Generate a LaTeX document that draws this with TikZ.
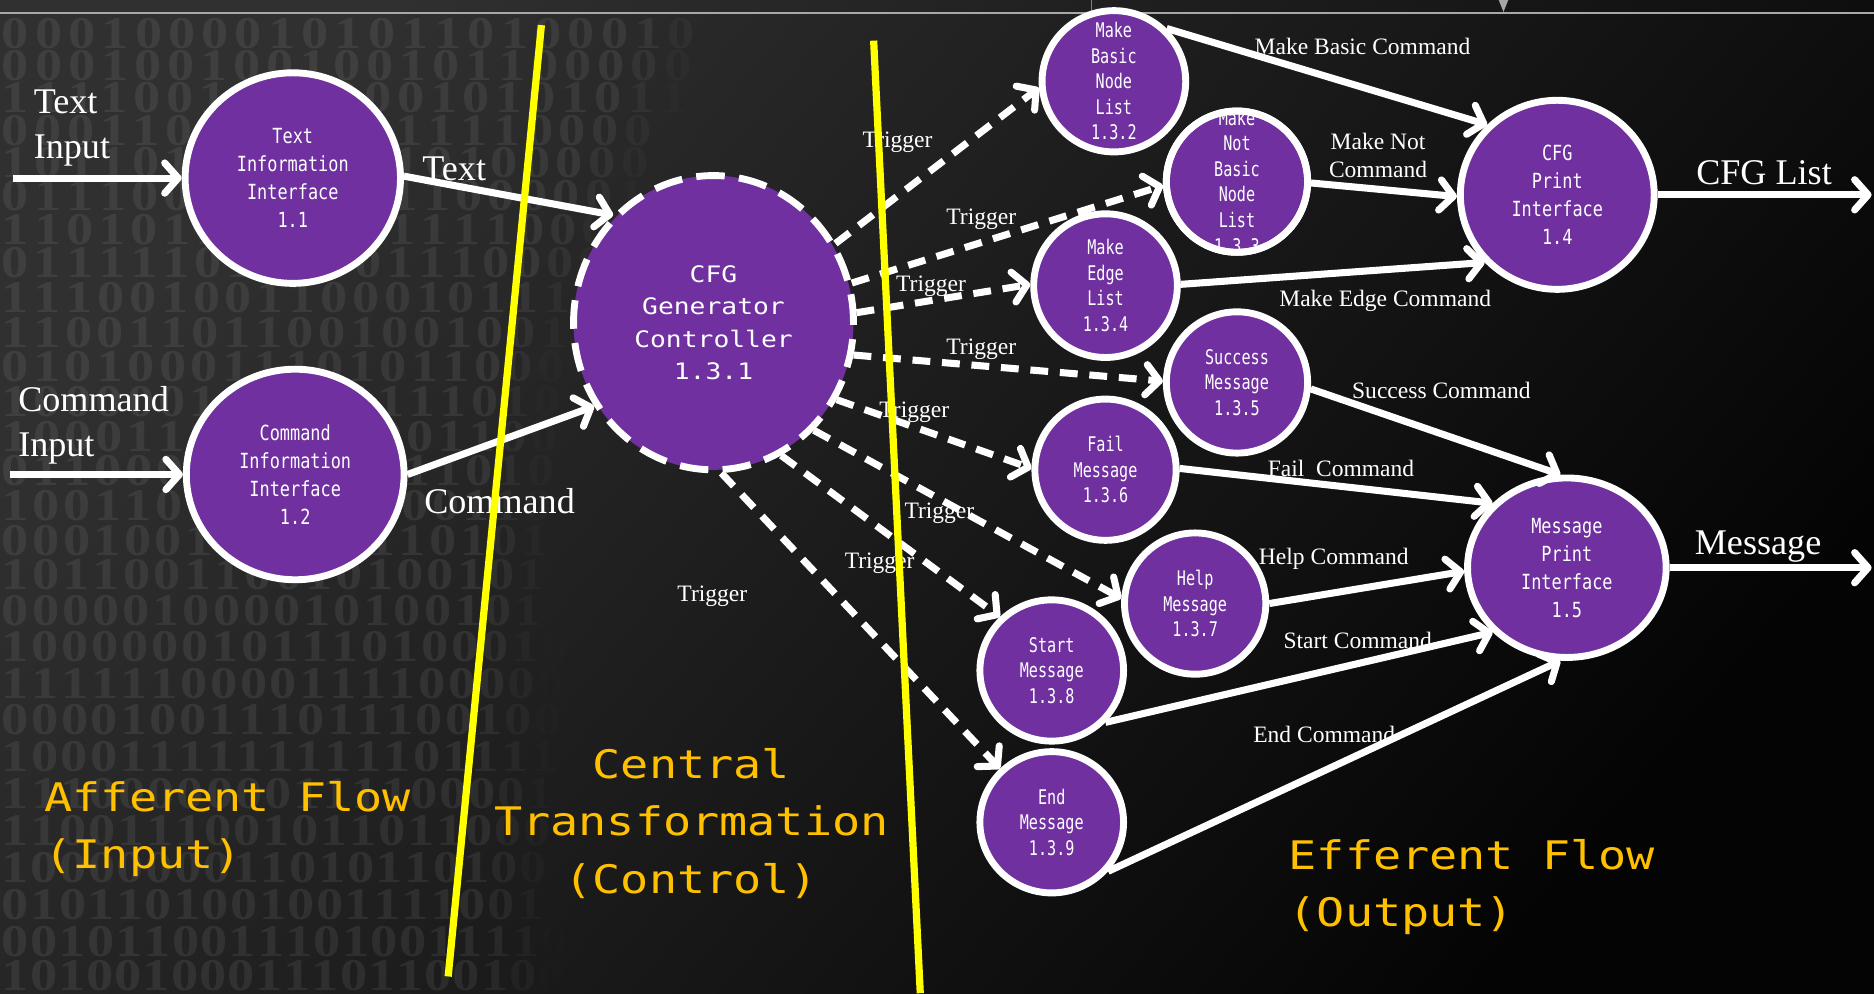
\documentclass[tikz,border=0pt]{standalone}
\usepackage{fontspec}
\setmainfont{Liberation Serif}
\newfontfamily\smallnodefont[FakeStretch=0.75]{DejaVu Sans Mono}
\newfontfamily\bignodefont[FakeStretch=0.81]{DejaVu Sans Mono}
\newfontfamily\ctrlfont[FakeStretch=1.16]{DejaVu Sans Mono}
\newfontfamily\flowfont[FakeStretch=1.19]{DejaVu Sans Mono}
\newfontfamily\digitfont[FakeStretch=1.2]{Liberation Serif}
\usetikzlibrary{arrows.meta,shapes.geometric}
\definecolor{bgA}{HTML}{303030}
\definecolor{bgB}{HTML}{040404}
\definecolor{purp}{HTML}{7030A0}
\definecolor{flowc}{HTML}{FFC000}
\definecolor{yel}{HTML}{FFFF00}
\definecolor{rulec}{HTML}{A8A8A8}
\tikzset{
  bubble/.style 2 args={ellipse, draw=white, fill=purp, line width=4.1pt, inner sep=0pt,
    minimum width={(2*#1-5.8)*0.025cm}, minimum height={(2*#2-5.8)*0.025cm}},
  ctrlbub/.style 2 args={bubble={#1}{#2}, dash pattern=on 17pt off 8.5pt},
  stxt/.style={text=white, align=center, inner sep=0pt, font=\smallnodefont\fontsize{12}{15.2}\selectfont},
  btxt/.style={text=white, align=center, inner sep=0pt, font=\bignodefont\fontsize{12.4}{16.6}\selectfont},
  ctxt/.style={text=white, align=center, inner sep=0pt, font=\ctrlfont\fontsize{13.5}{19.1}\selectfont},
  flow/.style={text=flowc, inner sep=0pt, font=\flowfont\fontsize{23.4}{34}\selectfont},
  biglbl/.style={text=white, inner sep=0pt, font=\fontsize{21.5}{27}\selectfont},
  lbl/.style={text=white, inner sep=0pt, font=\fontsize{14}{17}\selectfont},
  digit/.style={text=white, inner sep=0pt, font=\digitfont\bfseries\fontsize{27}{27}\selectfont},
  sedge/.style={draw=white, line width=4.2pt, -{Straight Barb[length=8pt,width=18pt,round]}},
  tedge/.style={sedge, dash pattern=on 10.6pt off 7pt},
  divider/.style={draw=yel, line width=4.3pt},
}
\begin{document}
\begin{tikzpicture}[x=0.025cm, y=-0.025cm]
% background
\shade[top color=bgA, bottom color=bgB, shading angle=50] (0,0) rectangle (1568,831);
\useasboundingbox (0,0) rectangle (1568,831);
% binary digit texture
\pgfmathsetseed{4242}
\foreach \ry [count=\ri] in {28,55,82,109,136,164,192,220,249,278,307,336,365,394,423,452,481,511,541,572,602,633,664,695,726,757,788,816} {
  \pgfmathsetmacro{\pitch}{28-4.5*\ry/831}
  \pgfmathsetmacro{\xedge}{max(470,615-0.45*\ry)}
  \foreach \ci in {0,...,23} {
    \pgfmathsetmacro{\xx}{13+\ci*\pitch}
    \pgfmathsetmacro{\op}{0.075*min(1,max(0,(\xedge-\xx)/70))}
    \pgfmathrandominteger{\dg}{0}{1}
    \pgfmathsetmacro{\ina}{((\xx-245)/80)^2+((\ry-149)/78)^2}
    \pgfmathsetmacro{\inb}{((\xx-247)/80)^2+((\ry-397)/78)^2}
    \pgfmathsetmacro{\inc}{((\xx-597)/106)^2+((\ry-270)/112)^2}
    \pgfmathsetmacro{\inn}{min(\ina,\inb,\inc)}
    \ifdim\inn pt>1pt
      \ifdim\op pt>0.001pt
        \node[digit, text opacity=\op] (d\ri-\ci) at (\xx,\ry) {\dg};
      \fi
    \fi
  }
}
% top rule
\draw[rulec, line width=1.1pt] (0,10.6) -- (1568,10.6);
\draw[gray, line width=0.8pt] (913,0) -- (913,10.6);
\fill[gray!70] (1254,0) -- (1262,0) -- (1258,10) -- cycle;

% nodes
\node[bubble={93}{91}] (t11) at (245,149) {};
\node[bubble={94}{91}] (c12) at (247,397) {};
\node[ctrlbub={120}{126}] (ctrl) at (597,270) {};
\node[bubble={63}{62}] (n132) at (932,68) {};
\node[bubble={62}{62}] (n133) at (1035,152) {};
\node[bubble={63}{63}] (n134) at (925,239) {};
\node[bubble={62}{62}] (n135) at (1035,320) {};
\node[bubble={62}{62}] (n136) at (925,393) {};
\node[bubble={62}{62}] (n137) at (1000,505) {};
\node[bubble={63}{62}] (n138) at (880,561) {};
\node[bubble={63}{62}] (n139) at (880,688) {};
\node[bubble={84}{82}] (p14) at (1303,163) {};
\node[bubble={86}{78}] (p15) at (1311,475) {};

\node[btxt] (t11t) at (t11.center) {Text\\Information\\Interface\\1.1};
\node[btxt] (c12t) at (c12.center) {Command\\Information\\Interface\\1.2};
\node[ctxt] (ctrlt) at (ctrl.center) {CFG\\Generator\\Controller\\1.3.1};
\node[stxt] (n132t) at (n132.center) {Make\\Basic\\Node\\List\\1.3.2};
\node[stxt] (n133t) at (n133.center) {Make\\Not\\Basic\\Node\\List\\1.3.3};
\draw[white, line width=4.1pt] (n133.center) circle [radius=59.1];
\node[stxt] (n134t) at (n134.center) {Make\\Edge\\List\\1.3.4};
\node[stxt] (n135t) at (n135.center) {Success\\Message\\1.3.5};
\node[stxt] (n136t) at (n136.center) {Fail\\Message\\1.3.6};
\node[stxt] (n137t) at (n137.center) {Help\\Message\\1.3.7};
\node[stxt] (n138t) at (n138.center) {Start\\Message\\1.3.8};
\node[stxt] (n139t) at (n139.center) {End\\Message\\1.3.9};
\node[btxt] (p14t) at (p14.center) {CFG\\Print\\Interface\\1.4};
\node[btxt] (p15t) at (p15.center) {Message\\Print\\Interface\\1.5};

% free ends
\coordinate (tin) at (11,149);
\coordinate (cin) at (8,397);
\coordinate (cfgout) at (1566,163);
\coordinate (msgout) at (1566,475);

% afferent
\draw[sedge] (tin) -- (t11.180);
\draw[sedge] (cin) -- (c12.180);
\draw[sedge] (t11.1) -- (ctrl.133);
\draw[sedge] (c12.0) -- (ctrl.215);

% triggers
\draw[tedge] (ctrl.33) -- (n132.185);
\draw[tedge] (ctrl.16) -- (n133.183);
\draw[tedge] (ctrl.4) -- (n134.179);
\draw[tedge] (ctrl.-13) -- (n135.179);
\draw[tedge] (ctrl.-32) -- (n136.179);
\draw[tedge] (ctrl.-47) -- (n137.176);
\draw[tedge] (ctrl.-63) -- (n138.134);
\draw[tedge] (ctrl.-87) -- (n139.134);

% efferent
\draw[sedge] (n132.45) -- (p14.135);
\draw[sedge] (n133.-1) -- (p14.181);
\draw[sedge] (n134.1) -- (p14.223);
\draw[sedge] (n135.-5) -- (p15.94);
\draw[sedge] (n136.1) -- (p15.139);
\draw[sedge] (n137.0) -- (p15.182);
\draw[sedge] (n138.-44) -- (p15.221);
\draw[sedge] (n139.-41) -- (p15.266);
\draw[sedge] (p14.0) -- (cfgout);
\draw[sedge] (p15.0) -- (msgout);

% labels
\node[biglbl, anchor=west, align=left] (ltin) at (28,107) {Text\\Input};
\node[biglbl, anchor=west, align=left] (lcin) at (15,356) {Command\\Input};
\node[biglbl, anchor=base] (ltext) at (380,151) {Text};
\node[biglbl, anchor=base] (lcmd) at (418,430) {Command};
\node[biglbl, anchor=base] (lcfg) at (1476,154) {CFG List};
\node[biglbl, anchor=base] (lmsg) at (1471,464) {Message};

\node[lbl, anchor=base] (tr1) at (751,123.5) {Trigger};
\node[lbl, anchor=base] (tr2) at (821,187.5) {Trigger};
\node[lbl, anchor=base] (tr3) at (779,243.5) {Trigger};
\node[lbl, anchor=base] (tr4) at (821,296.5) {Trigger};
\node[lbl, anchor=base] (tr5) at (765,349.5) {Trigger};
\node[lbl, anchor=base] (tr6) at (786,433.5) {Trigger};
\node[lbl, anchor=base] (tr7) at (736,475.5) {Trigger};
\node[lbl, anchor=base] (tr8) at (596,503.5) {Trigger};

\node[lbl, anchor=base] (lmb) at (1140,45.5) {Make Basic Command};
\node[lbl, align=center] (lmn) at (1153,130) {Make Not\\Command};
\node[lbl, anchor=base] (lme) at (1159,256.5) {Make Edge Command};
\node[lbl, anchor=base] (lsu) at (1206,333.5) {Success Command};
\node[lbl, anchor=base] (lfa) at (1122,398.5) {Fail~ Command};
\node[lbl, anchor=base] (lhe) at (1116,472.5) {Help Command};
\node[lbl, anchor=base] (lst) at (1136,542.5) {Start Command};
\node[lbl, anchor=base] (len) at (1108,621.5) {End Command};

% flow titles
\node[flow, anchor=west, align=left] (aff) at (37,694) {Afferent Flow\\(Input)};
\node[flow, align=center] (cen) at (578.5,689) {Central\\Transformation\\(Control)};
\node[flow, anchor=west, align=left] (eff) at (1078,742) {Efferent Flow\\(Output)};

% dividers
\coordinate (y1a) at (453,21);
\coordinate (y1b) at (375,817);
\coordinate (y2a) at (731,34);
\coordinate (y2b) at (770,831);
\draw[divider] (y1a) -- (y1b);
\draw[divider] (y2a) -- (y2b);
\end{tikzpicture}
\end{document}
